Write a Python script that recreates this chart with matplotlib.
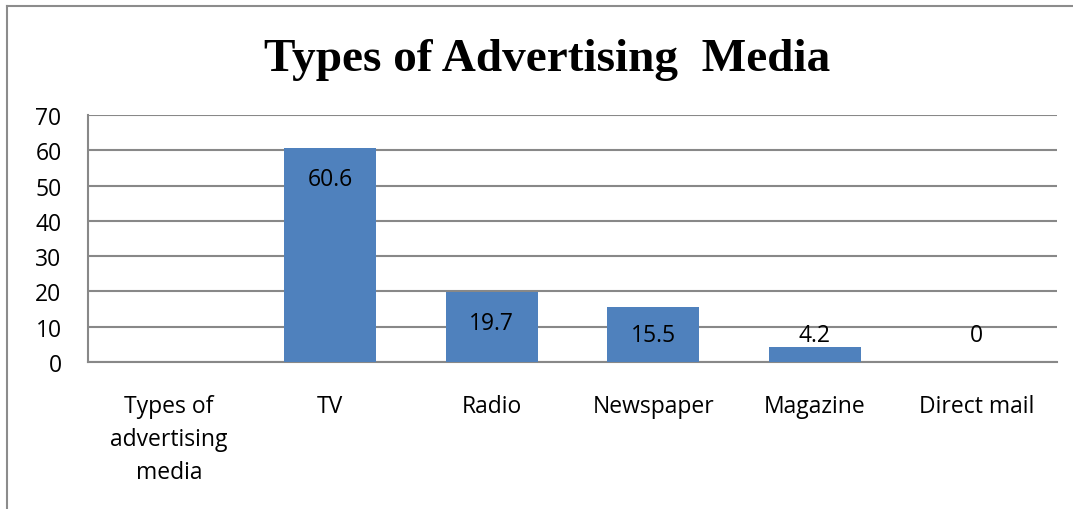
import matplotlib
matplotlib.use("Agg")
import matplotlib.pyplot as plt
from matplotlib.lines import Line2D

categories = ["Types of\nadvertising\nmedia", "TV", "Radio", "Newspaper", "Magazine", "Direct mail"]
values = [None, 60.6, 19.7, 15.5, 4.2, 0]
value_labels = ["", "60.6", "19.7", "15.5", "4.2", "0"]
y_ticks = [0, 10, 20, 30, 40, 50, 60, 70]

BAR_COLOR = "#4F81BD"
GRID_COLOR = "#888888"
FONT = "Open Sans"
FS = 16.5

fig = plt.figure(figsize=(10.73, 5.10), dpi=100)
ax = fig.add_axes([88 / 1073, 1 - 363 / 510, (1057 - 88) / 1073, (363 - 116) / 510])

x = list(range(len(categories)))
heights = [v if v is not None else 0 for v in values]
ax.bar(x, heights, width=0.57, color=BAR_COLOR, zorder=3)

# value labels sit inside the bar top, pushed up when the bar is too short
for xi, v, lab in zip(x, values, value_labels):
    if v is None:
        continue
    ax.text(xi, max(v - 8.7, 7.6), lab, ha="center", va="center",
            fontsize=FS, family=FONT, zorder=4)

ax.set_xlim(-0.5, len(categories) - 0.5)
ax.set_ylim(0, 70)
ax.set_yticks(y_ticks)
ax.set_xticks(x)
ax.set_xticklabels(categories, family=FONT, fontsize=FS, linespacing=1.5)
ax.set_yticklabels([str(t) for t in y_ticks], family=FONT, fontsize=FS)
ax.tick_params(axis="both", length=0)
ax.tick_params(axis="x", pad=23)
ax.tick_params(axis="y", pad=19)

ax.yaxis.grid(True, color=GRID_COLOR, linewidth=1.5, zorder=0)
ax.set_axisbelow(True)
for side in ["top", "right"]:
    ax.spines[side].set_visible(False)
ax.spines["left"].set_color(GRID_COLOR)
ax.spines["left"].set_linewidth(1.5)
ax.spines["bottom"].set_color(GRID_COLOR)
ax.spines["bottom"].set_linewidth(1.5)

fig.text(547 / 1073, 1 - 60 / 510, "Types of Advertising  Media", ha="center", va="center",
         family="Liberation Serif", fontweight="bold", fontsize=34)

# chart-area border (only left and top edges visible in the crop)
fig.add_artist(Line2D([7 / 1073, 7 / 1073], [0, 1 - 7 / 510], color="#8c8c8c", linewidth=1.5))
fig.add_artist(Line2D([7 / 1073, 1], [1 - 7 / 510, 1 - 7 / 510], color="#8c8c8c", linewidth=1.5))

fig.savefig("out.png", dpi=100)
